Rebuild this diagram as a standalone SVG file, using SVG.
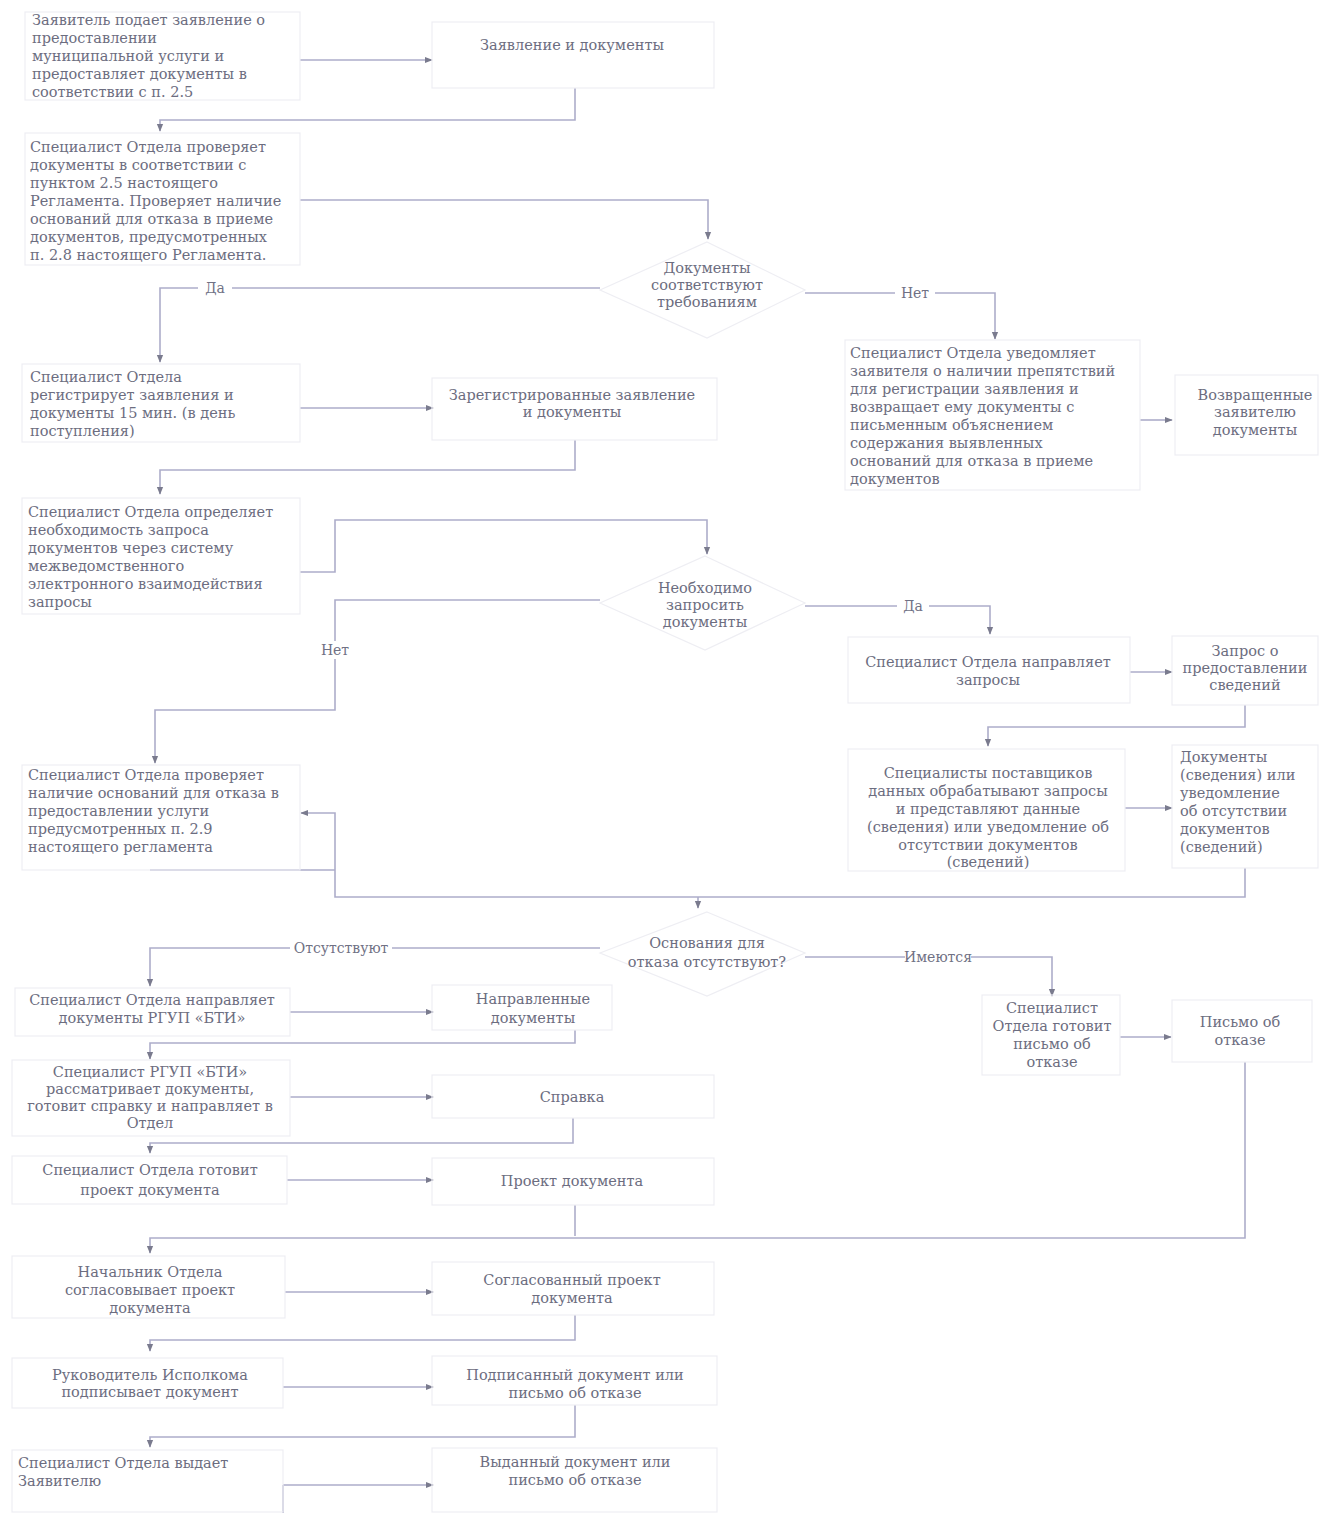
<svg xmlns="http://www.w3.org/2000/svg" width="1329" height="1513" viewBox="0 0 1329 1513">
<defs>
<style>
.t{font-family:"DejaVu Serif","Liberation Serif",serif;font-size:14.5px;fill:#6c6d80}
.c{text-anchor:middle}
.ln{fill:none;stroke:#adadca;stroke-width:1.6}
.bx{fill:none;stroke:#eeeef3;stroke-width:1.2}
.lb{font-family:"DejaVu Serif","Liberation Serif",serif;font-size:14px;fill:#707184;text-anchor:middle}
.lbg{fill:#ffffff}
</style>
<marker id="ar" viewBox="0 0 10 10" refX="9" refY="5" markerWidth="8" markerHeight="8" markerUnits="userSpaceOnUse" orient="auto">
<path d="M0 1 L10 5 L0 9 z" fill="#7a7b8e"/>
</marker>
</defs>
<rect width="1329" height="1513" fill="#ffffff"/>

<g id="connectors">
<path class="ln" d="M300 60 H432" marker-end="url(#ar)"/>
<path class="ln" d="M575 88 V120 H160 V131" marker-end="url(#ar)"/>
<path class="ln" d="M300 200 H708 V239" marker-end="url(#ar)"/>
<path class="ln" d="M600 288 H160 V362" marker-end="url(#ar)"/>
<path class="ln" d="M805 293 H995 V339" marker-end="url(#ar)"/>
<path class="ln" d="M300 408 H433" marker-end="url(#ar)"/>
<path class="ln" d="M575 440 V470 H160 V494" marker-end="url(#ar)"/>
<path class="ln" d="M300 572 H335 V520 H707 V554" marker-end="url(#ar)"/>
<path class="ln" d="M600 600 H335 V710 H155 V763" marker-end="url(#ar)"/>
<path class="ln" d="M805 606 H990 V634" marker-end="url(#ar)"/>
<path class="ln" d="M1130 672 H1172" marker-end="url(#ar)"/>
<path class="ln" d="M1245 705 V727 H988 V746" marker-end="url(#ar)"/>
<path class="ln" d="M1125 808 H1172" marker-end="url(#ar)"/>
<path class="ln" d="M1140 420 H1172" marker-end="url(#ar)"/>
<path class="ln" d="M1245 868 V897 H335 V813 H301" marker-end="url(#ar)"/>
<path class="ln" d="M150 870 H335"/>
<path class="ln" d="M698 897 V908" marker-end="url(#ar)"/>
<path class="ln" d="M600 948 H150 V986" marker-end="url(#ar)"/>
<path class="ln" d="M805 957 H1052 V996" marker-end="url(#ar)"/>
<path class="ln" d="M290 1012 H433" marker-end="url(#ar)"/>
<path class="ln" d="M575 1030 V1043 H150 V1059" marker-end="url(#ar)"/>
<path class="ln" d="M290 1097 H433" marker-end="url(#ar)"/>
<path class="ln" d="M573 1118 V1143 H150 V1153" marker-end="url(#ar)"/>
<path class="ln" d="M287 1180 H433" marker-end="url(#ar)"/>
<path class="ln" d="M575 1205 V1236"/>
<path class="ln" d="M1120 1037 H1171" marker-end="url(#ar)"/>
<path class="ln" d="M1245 1062 V1238 H150 V1253" marker-end="url(#ar)"/>
<path class="ln" d="M285 1292 H433" marker-end="url(#ar)"/>
<path class="ln" d="M575 1315 V1340 H150 V1351" marker-end="url(#ar)"/>
<path class="ln" d="M283 1387 H433" marker-end="url(#ar)"/>
<path class="ln" d="M575 1405 V1437 H150 V1447" marker-end="url(#ar)"/>
<path class="ln" d="M283 1485 H433" marker-end="url(#ar)"/>
<path class="ln" d="M283 1485 V1513"/>
<rect class="lbg" x="198" y="280" width="34" height="16"/>
<text class="lb" x="215" y="293">Да</text>
<rect class="lbg" x="895" y="285" width="40" height="16"/>
<text class="lb" x="915" y="298">Нет</text>
<rect class="lbg" x="315" y="641" width="40" height="18"/>
<text class="lb" x="335" y="655">Нет</text>
<rect class="lbg" x="897" y="598" width="32" height="16"/>
<text class="lb" x="913" y="611">Да</text>
<rect class="lbg" x="290" y="940" width="102" height="16"/>
<text class="lb" x="341" y="953">Отсутствуют</text>
<rect class="lbg" x="905" y="949" width="66" height="16"/>
<text class="lb" x="938" y="962">Имеются</text>
</g>

<g id="n1"><rect class="bx" x="25" y="12" width="275" height="88"/>
<text class="t" x="32" y="25">Заявитель подает заявление о</text>
<text class="t" x="32" y="43">предоставлении</text>
<text class="t" x="32" y="61">муниципальной услуги и</text>
<text class="t" x="32" y="79">предоставляет документы в</text>
<text class="t" x="32" y="97">соответствии с п. 2.5</text></g>

<g id="n2"><rect class="bx" x="432" y="22" width="282" height="66"/>
<text class="t c" x="572" y="50">Заявление и документы</text></g>

<g id="n3"><rect class="bx" x="25" y="133" width="275" height="132"/>
<text class="t" x="30" y="152">Специалист Отдела проверяет</text>
<text class="t" x="30" y="170">документы в соответствии с</text>
<text class="t" x="30" y="188">пунктом 2.5 настоящего</text>
<text class="t" x="30" y="206">Регламента. Проверяет наличие</text>
<text class="t" x="30" y="224">оснований для отказа в приеме</text>
<text class="t" x="30" y="242">документов, предусмотренных</text>
<text class="t" x="30" y="260">п. 2.8 настоящего Регламента.</text></g>

<g id="n4"><polygon class="bx" points="707,242 805,290 707,338 600,290"/>
<text class="t c" x="707" y="273">Документы</text>
<text class="t c" x="707" y="290">соответствуют</text>
<text class="t c" x="707" y="307">требованиям</text></g>

<g id="n5"><rect class="bx" x="22" y="364" width="278" height="78"/>
<text class="t" x="30" y="382">Специалист Отдела</text>
<text class="t" x="30" y="400">регистрирует заявления и</text>
<text class="t" x="30" y="418">документы 15 мин. (в день</text>
<text class="t" x="30" y="436">поступления)</text></g>

<g id="n6"><rect class="bx" x="432" y="378" width="285" height="62"/>
<text class="t c" x="572" y="400">Зарегистрированные заявление</text>
<text class="t c" x="572" y="417">и документы</text></g>

<g id="n7"><rect class="bx" x="22" y="498" width="278" height="116"/>
<text class="t" x="28" y="517">Специалист Отдела определяет</text>
<text class="t" x="28" y="535">необходимость запроса</text>
<text class="t" x="28" y="553">документов через систему</text>
<text class="t" x="28" y="571">межведомственного</text>
<text class="t" x="28" y="589">электронного взаимодействия</text>
<text class="t" x="28" y="607">запросы</text></g>

<g id="n8"><polygon class="bx" points="705,556 805,603 705,650 600,603"/>
<text class="t c" x="705" y="593">Необходимо</text>
<text class="t c" x="705" y="610">запросить</text>
<text class="t c" x="705" y="627">документы</text></g>

<g id="n9"><rect class="bx" x="848" y="637" width="282" height="66"/>
<text class="t c" x="988" y="667">Специалист Отдела направляет</text>
<text class="t c" x="988" y="685">запросы</text></g>

<g id="n10"><rect class="bx" x="1172" y="636" width="146" height="69"/>
<text class="t c" x="1245" y="656">Запрос о</text>
<text class="t c" x="1245" y="673">предоставлении</text>
<text class="t c" x="1245" y="690">сведений</text></g>

<g id="n11"><rect class="bx" x="848" y="749" width="277" height="122"/>
<text class="t c" x="988" y="778">Специалисты поставщиков</text>
<text class="t c" x="988" y="796">данных обрабатывают запросы</text>
<text class="t c" x="988" y="814">и представляют данные</text>
<text class="t c" x="988" y="832">(сведения) или уведомление об</text>
<text class="t c" x="988" y="850">отсутствии документов</text>
<text class="t c" x="988" y="867">(сведений)</text></g>

<g id="n12"><rect class="bx" x="1172" y="745" width="146" height="123"/>
<text class="t" x="1180" y="762">Документы</text>
<text class="t" x="1180" y="780">(сведения) или</text>
<text class="t" x="1180" y="798">уведомление</text>
<text class="t" x="1180" y="816">об отсутствии</text>
<text class="t" x="1180" y="834">документов</text>
<text class="t" x="1180" y="852">(сведений)</text></g>

<g id="n13"><rect class="bx" x="22" y="765" width="278" height="105"/>
<text class="t" x="28" y="780">Специалист Отдела проверяет</text>
<text class="t" x="28" y="798">наличие оснований для отказа в</text>
<text class="t" x="28" y="816">предоставлении услуги</text>
<text class="t" x="28" y="834">предусмотренных п. 2.9</text>
<text class="t" x="28" y="852">настоящего регламента</text></g>

<g id="n14"><polygon class="bx" points="707,912 805,953 707,996 600,953"/>
<text class="t c" x="707" y="948">Основания для</text>
<text class="t c" x="707" y="967">отказа отсутствуют?</text></g>

<g id="n15"><rect class="bx" x="15" y="988" width="275" height="48"/>
<text class="t c" x="152" y="1005">Специалист Отдела направляет</text>
<text class="t c" x="152" y="1023">документы РГУП «БТИ»</text></g>

<g id="n16"><rect class="bx" x="432" y="985" width="180" height="45"/>
<text class="t c" x="533" y="1004">Направленные</text>
<text class="t c" x="533" y="1023">документы</text></g>

<g id="n17"><rect class="bx" x="12" y="1060" width="278" height="76"/>
<text class="t c" x="150" y="1077">Специалист РГУП «БТИ»</text>
<text class="t c" x="150" y="1094">рассматривает документы,</text>
<text class="t c" x="150" y="1111">готовит справку и направляет в</text>
<text class="t c" x="150" y="1128">Отдел</text></g>

<g id="n18"><rect class="bx" x="432" y="1075" width="282" height="43"/>
<text class="t c" x="572" y="1102">Справка</text></g>

<g id="n19"><rect class="bx" x="12" y="1156" width="275" height="48"/>
<text class="t c" x="150" y="1175">Специалист Отдела готовит</text>
<text class="t c" x="150" y="1195">проект документа</text></g>

<g id="n20"><rect class="bx" x="432" y="1158" width="282" height="47"/>
<text class="t c" x="572" y="1186">Проект документа</text></g>

<g id="n21"><rect class="bx" x="982" y="995" width="138" height="80"/>
<text class="t c" x="1052" y="1013">Специалист</text>
<text class="t c" x="1052" y="1031">Отдела готовит</text>
<text class="t c" x="1052" y="1049">письмо об</text>
<text class="t c" x="1052" y="1067">отказе</text></g>

<g id="n22"><rect class="bx" x="1172" y="1000" width="140" height="62"/>
<text class="t c" x="1240" y="1027">Письмо об</text>
<text class="t c" x="1240" y="1045">отказе</text></g>

<g id="n23"><rect class="bx" x="12" y="1256" width="273" height="62"/>
<text class="t c" x="150" y="1277">Начальник Отдела</text>
<text class="t c" x="150" y="1295">согласовывает проект</text>
<text class="t c" x="150" y="1313">документа</text></g>

<g id="n24"><rect class="bx" x="432" y="1262" width="282" height="53"/>
<text class="t c" x="572" y="1285">Согласованный проект</text>
<text class="t c" x="572" y="1303">документа</text></g>

<g id="n25"><rect class="bx" x="12" y="1358" width="271" height="50"/>
<text class="t c" x="150" y="1380">Руководитель Исполкома</text>
<text class="t c" x="150" y="1397">подписывает документ</text></g>

<g id="n26"><rect class="bx" x="432" y="1356" width="285" height="49"/>
<text class="t c" x="575" y="1380">Подписанный документ или</text>
<text class="t c" x="575" y="1398">письмо об отказе</text></g>

<g id="n27"><rect class="bx" x="12" y="1450" width="271" height="62"/>
<text class="t" x="18" y="1468">Специалист Отдела выдает</text>
<text class="t" x="18" y="1486">Заявителю</text></g>

<g id="n28"><rect class="bx" x="432" y="1448" width="285" height="64"/>
<text class="t c" x="575" y="1467">Выданный документ или</text>
<text class="t c" x="575" y="1485">письмо об отказе</text></g>

<g id="n29"><rect class="bx" x="845" y="340" width="295" height="150"/>
<text class="t" x="850" y="358">Специалист Отдела уведомляет</text>
<text class="t" x="850" y="376">заявителя о наличии препятствий</text>
<text class="t" x="850" y="394">для регистрации заявления и</text>
<text class="t" x="850" y="412">возвращает ему документы с</text>
<text class="t" x="850" y="430">письменным объяснением</text>
<text class="t" x="850" y="448">содержания выявленных</text>
<text class="t" x="850" y="466">оснований для отказа в приеме</text>
<text class="t" x="850" y="484">документов</text></g>

<g id="n30"><rect class="bx" x="1175" y="375" width="143" height="80"/>
<text class="t c" x="1255" y="400">Возвращенные</text>
<text class="t c" x="1255" y="417">заявителю</text>
<text class="t c" x="1255" y="435">документы</text></g>
</svg>
